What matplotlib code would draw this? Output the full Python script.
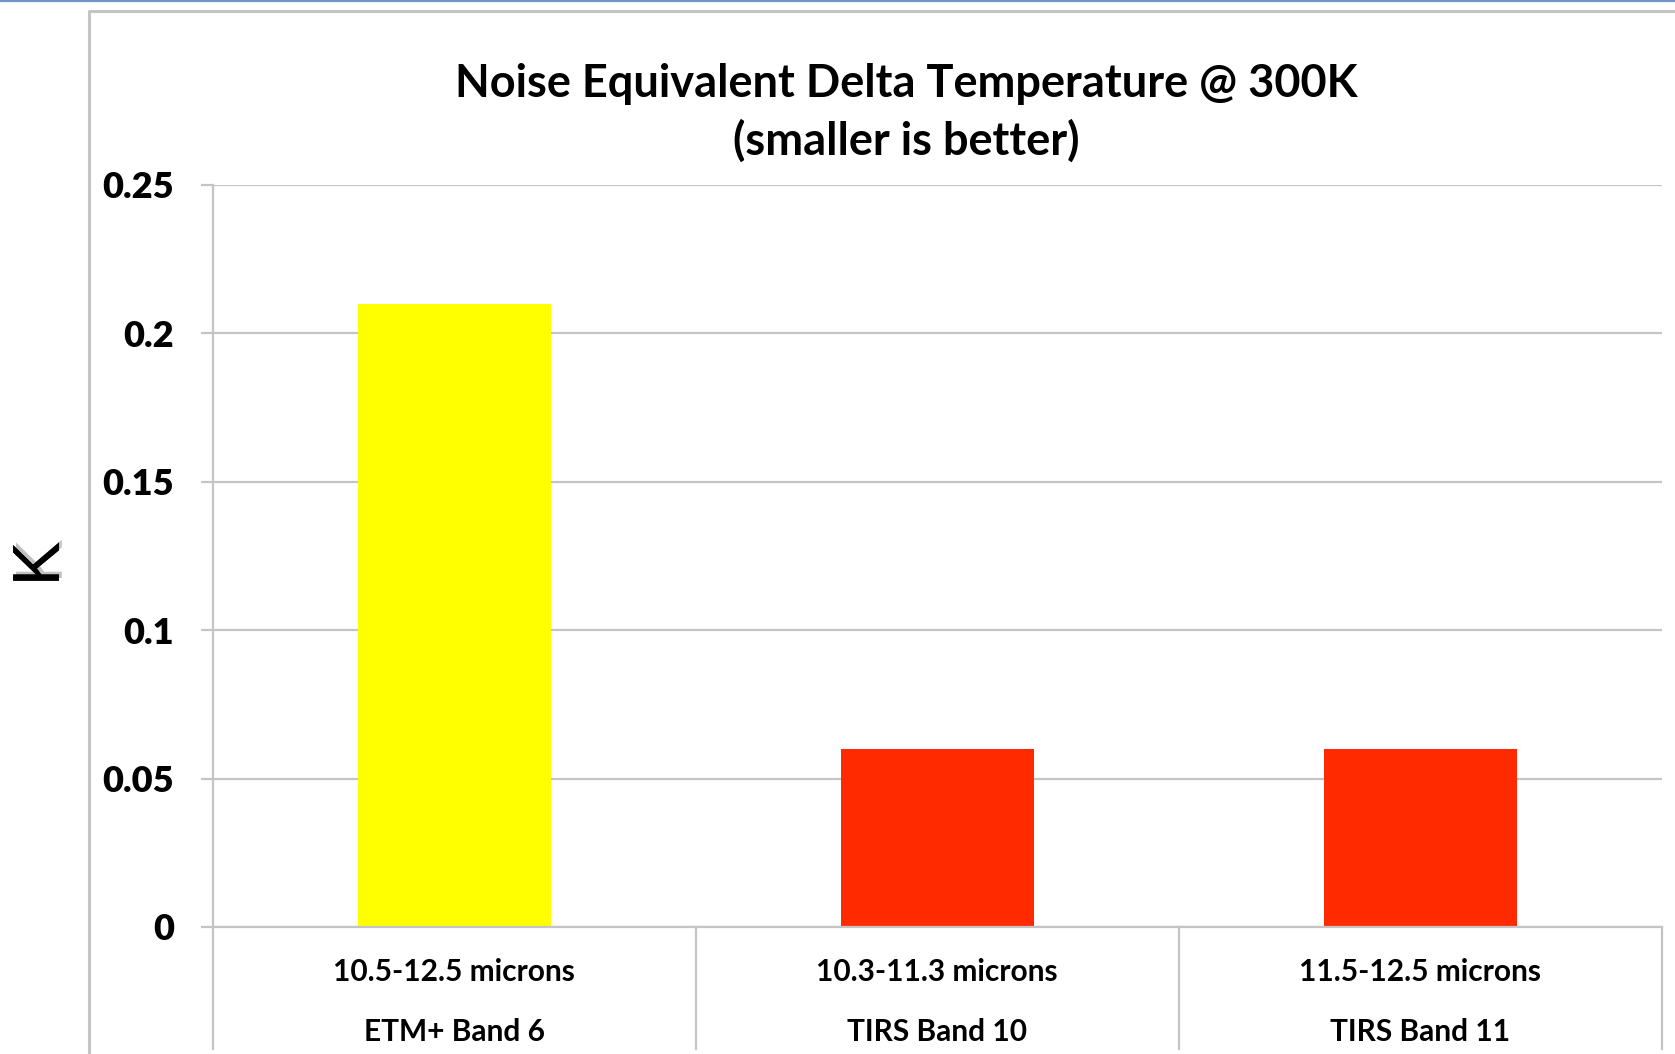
import matplotlib.pyplot as plt
from matplotlib import patheffects
from matplotlib.lines import Line2D

# chart data
bands = ["ETM+ Band 6", "TIRS Band 10", "TIRS Band 11"]
ranges = ["10.5-12.5 microns", "10.3-11.3 microns", "11.5-12.5 microns"]
nedt = [0.21, 0.06, 0.06]
bar_colors = ["#ffff00", "#ff2a00", "#ff2a00"]
yticks = [0, 0.05, 0.1, 0.15, 0.2, 0.25]
ytick_labels = ["0", "0.05", "0.1", "0.15", "0.2", "0.25"]

W, H = 1675, 1054
GRID = "#c4c4c4"

plt.rcParams["font.family"] = ["Lato", "DejaVu Sans"]

fig = plt.figure(figsize=(W / 100, H / 100), dpi=100)
fig.patch.set_facecolor("white")

# outer chart frame and the blue line along the top edge
fig.add_artist(Line2D([0, 1], [1 - 1 / H, 1 - 1 / H], transform=fig.transFigure,
                      color="#6f95cc", lw=1.6))
fig.add_artist(Line2D([89 / W, 89 / W, 1], [0, 1 - 11 / H, 1 - 11 / H],
                      transform=fig.transFigure, color=GRID, lw=2.2))

left, right, top, bottom = 212.6, 1662, 185, 927
ax = fig.add_axes([left / W, 1 - bottom / H, (right - left) / W, (bottom - top) / H])

x = list(range(len(nedt)))
ax.bar(x, nedt, width=0.4, color=bar_colors, zorder=3)

ax.set_xlim(-0.5, len(nedt) - 0.5)
ax.set_ylim(0, 0.25)
ax.set_yticks(yticks)
ax.set_yticklabels(ytick_labels, fontsize=26, fontweight="heavy")
ax.set_xticks([])
ax.yaxis.grid(True, color=GRID, lw=1.6, zorder=0)
ax.tick_params(axis="y", length=8.6, width=1.6, color=GRID, pad=19)
for side in ["top", "right"]:
    ax.spines[side].set_visible(False)
for side in ["left", "bottom"]:
    ax.spines[side].set_color(GRID)
    ax.spines[side].set_linewidth(1.6)
ax.spines["bottom"].set_zorder(4)

# multi-level category axis
axh = bottom - top
sep_bottom = -(1049 - bottom) / axh
for b in [i - 0.5 for i in range(len(nedt) + 1)]:
    ax.plot([b, b], [0, sep_bottom], transform=ax.get_xaxis_transform(),
            color=GRID, lw=1.6, clip_on=False)
for i in x:
    ax.text(i, -(972 - bottom) / axh, ranges[i], transform=ax.get_xaxis_transform(),
            ha="center", va="center", fontsize=21.5, fontweight="bold")
    ax.text(i, -(1032 - bottom) / axh, bands[i], transform=ax.get_xaxis_transform(),
            ha="center", va="center", fontsize=21.5, fontweight="bold")

fig.text(906 / W, 1 - 84 / H, "Noise Equivalent Delta Temperature @ 300K",
         ha="center", va="center", fontsize=32.5, fontweight="bold")
fig.text(906 / W, 1 - 141 / H, "(smaller is better)",
         ha="center", va="center", fontsize=32.5, fontweight="bold")

fig.text(42 / W, 1 - 564 / H, "K", rotation=90, ha="center", va="center",
         fontsize=48, family=["Liberation Sans", "DejaVu Sans"],
         path_effects=[patheffects.withSimplePatchShadow(offset=(2, 2), shadow_rgbFace="#999999", alpha=0.6),
                       patheffects.Normal()])

fig.savefig("out.png", dpi=100, facecolor="white")
